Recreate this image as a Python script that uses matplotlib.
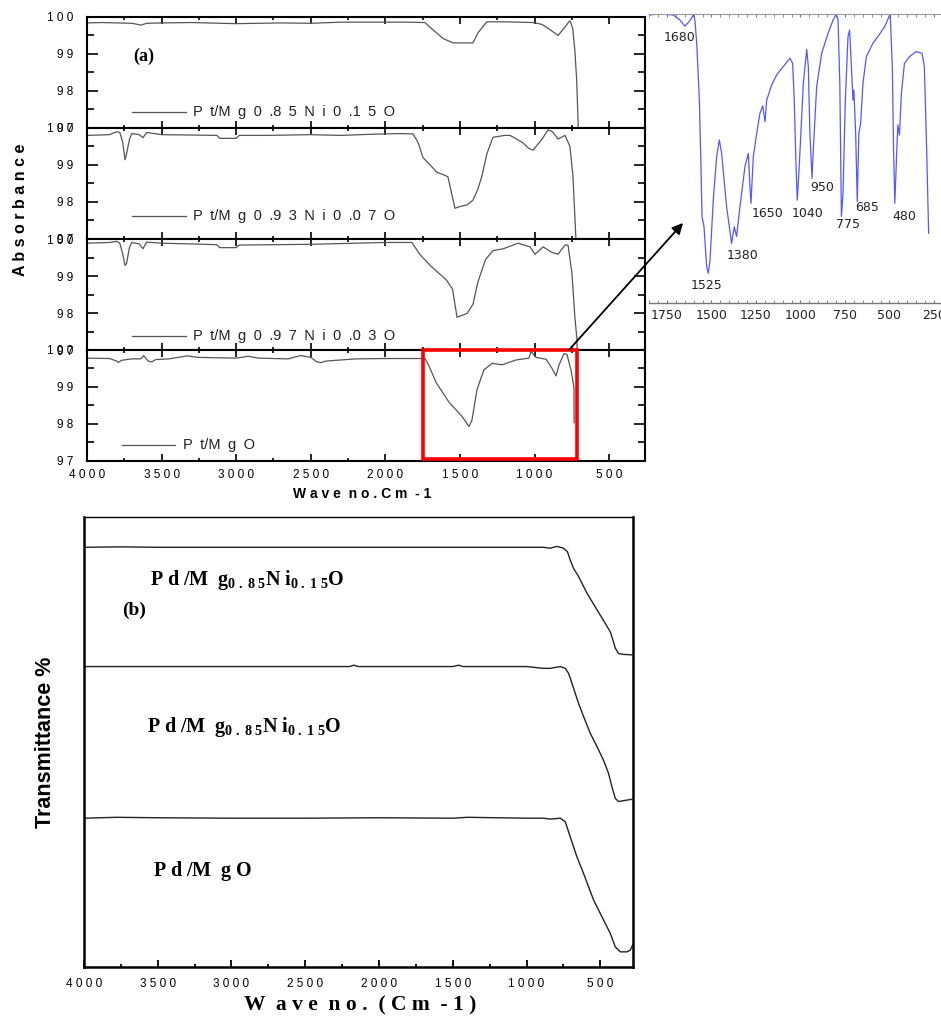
import matplotlib.pyplot as plt
from matplotlib.patches import Rectangle, ConnectionPatch
from matplotlib.ticker import MultipleLocator

plt.rcParams['font.family'] = ['Liberation Sans', 'DejaVu Sans']
plt.rcParams['mathtext.fontset'] = 'custom'
plt.rcParams['mathtext.rm'] = 'Liberation Serif'
plt.rcParams['mathtext.bf'] = 'Liberation Serif:bold'
plt.rcParams['mathtext.it'] = 'Liberation Serif:italic'

SP = '\u2002'  # wide letter spacing as in the original figure

# ---------------- panel (a): absorbance, four stacked spectra ----------------
a_names = ['P t/M g 0 .8 5 N i 0 .1 5 O', 'P t/M g 0 .9 3 N i 0 .0 7 O',
           'P t/M g 0 .9 7 N i 0 .0 3 O', 'P t/M g O']

a1_wn = [4000, 3900, 3800, 3700, 3660, 3640, 3600, 3500, 3300, 3100, 3000, 2700, 2500,
         2300, 2000, 1850, 1735, 1700, 1614, 1547, 1500, 1450, 1413, 1380, 1320, 1200,
         1100, 1010, 950, 897, 843, 796, 770, 763, 745, 730, 718, 707, 700]
a1_val = [99.84, 99.85, 99.84, 99.83, 99.8, 99.78, 99.83, 99.84, 99.85, 99.83, 99.82, 99.84, 99.83,
          99.86, 99.86, 99.86, 99.85, 99.72, 99.42, 99.3, 99.3, 99.3, 99.3, 99.57, 99.87, 99.87,
          99.86, 99.85, 99.8, 99.66, 99.5, 99.73, 99.87, 99.9, 99.7, 99.1, 98.3, 97.0, 96.0]

a2_wn = [4000, 3850, 3800, 3780, 3760, 3745, 3735, 3715, 3700, 3650, 3625, 3600, 3500, 3300,
         3130, 3110, 3000, 2980, 2800, 2500, 2300, 2100, 1900, 1815, 1780, 1748, 1700, 1654,
         1600, 1581, 1560, 1534, 1500, 1453, 1413, 1380, 1353, 1320, 1279, 1200, 1165, 1120,
         1078, 1040, 1011, 980, 950, 910, 880, 843, 820, 796, 763, 743, 723, 715]
a2_val = [99.8, 99.82, 99.9, 99.88, 99.6, 99.14, 99.3, 99.7, 99.85, 99.82, 99.74, 99.88, 99.82, 99.81,
          99.8, 99.72, 99.72, 99.8, 99.8, 99.82, 99.8, 99.83, 99.85, 99.84, 99.6, 99.2, 99.0, 98.8,
          98.72, 98.68, 98.3, 97.83, 97.88, 97.92, 98.05, 98.35, 98.7, 99.3, 99.75, 99.8, 99.8, 99.7,
          99.6, 99.45, 99.4, 99.55, 99.7, 99.95, 99.9, 99.7, 99.75, 99.8, 99.5, 98.7, 97.0, 96.0]

a3_wn = [4000, 3850, 3800, 3780, 3760, 3745, 3735, 3715, 3700, 3650, 3625, 3600, 3500, 3300,
         3130, 3110, 3000, 2980, 2500, 2200, 2000, 1822, 1770, 1700, 1590, 1550, 1520, 1453,
         1413, 1380, 1330, 1279, 1210, 1110, 1030, 997, 943, 883, 843, 796, 776, 750, 730,
         716, 710]
a3_val = [99.9, 99.92, 99.95, 99.9, 99.6, 99.3, 99.35, 99.8, 99.92, 99.88, 99.75, 99.93, 99.9, 99.88,
          99.86, 99.78, 99.78, 99.85, 99.87, 99.9, 99.92, 99.92, 99.6, 99.3, 98.9, 98.66, 97.9, 98.0,
          98.25, 98.85, 99.45, 99.7, 99.75, 99.9, 99.8, 99.6, 99.8, 99.65, 99.6, 99.85, 99.85, 99.1, 97.9,
          97.3, 96.0]

a4_wn = [4000, 3850, 3800, 3790, 3770, 3700, 3640, 3620, 3590, 3565, 3540, 3450, 3330, 3250,
         3000, 2920, 2850, 2650, 2570, 2500, 2460, 2430, 2400, 2200, 2000, 1850, 1735, 1708,
         1660, 1572, 1485, 1440, 1420, 1386, 1340, 1285, 1218, 1125, 1038, 1024, 990, 923,
         883, 856, 836, 803, 783, 756, 736, 735]
a4_val = [99.78, 99.77, 99.7, 99.66, 99.72, 99.76, 99.76, 99.85, 99.7, 99.68, 99.74, 99.76, 99.84, 99.8,
          99.78, 99.83, 99.78, 99.76, 99.85, 99.8, 99.68, 99.66, 99.7, 99.76, 99.77, 99.77, 99.77, 99.57,
          99.12, 98.58, 98.2, 97.93, 98.1, 98.93, 99.46, 99.64, 99.6, 99.73, 99.78, 99.96, 99.8, 99.75,
          99.5, 99.3, 99.6, 99.9, 99.88, 99.46, 98.98, 98.03]

a_series = [(a1_wn, a1_val), (a2_wn, a2_val), (a3_wn, a3_val), (a4_wn, a4_val)]
a_yticks = [97, 98, 99, 100]
a_ytick_labels = ['9 7', '9 8', '9 9', '1 0 0']
x_ticks = [4000, 3500, 3000, 2500, 2000, 1500, 1000, 500]
x_tick_labels = ['4 0 0 0', '3 5 0 0', '3 0 0 0', '2 5 0 0', '2 0 0 0', '1 5 0 0', '1 0 0 0', '5 0 0']

# ---------------- inset: blue IR spectrum ----------------
ir_wn = [1855, 1789, 1714, 1677, 1649, 1621, 1602, 1593, 1583, 1568, 1559, 1553, 1542, 1527, 1518,
         1508, 1490, 1471, 1456, 1443, 1415, 1387, 1372, 1359, 1340, 1312, 1293, 1284, 1278, 1265,
         1246, 1228, 1212, 1199, 1190, 1162, 1134, 1097, 1059, 1044, 1035, 1025, 1018, 1007, 984,
         965, 956, 947, 935, 928, 909, 881, 845, 817, 798, 789, 779, 770, 761, 748, 733, 724, 714,
         705, 700, 690, 681, 672, 662, 649, 630, 593, 565, 527, 496, 484, 477, 470, 459, 453, 444,
         433, 416, 388, 350, 317, 304, 291, 280]
ir_t = [99.65, 100, 99.65, 97.9, 95.8, 97.7, 99.65, 97.9, 89.9, 70.2, 47.2, 29.9, 26.4, 12.6, 10.3,
        14.9, 35.6, 50.6, 56.4, 51.8, 33.3, 20.6, 26.4, 23.0, 33.3, 47.2, 51.8, 40.3, 34.5, 50.6,
        58.7, 65.6, 68.2, 62.7, 70.2, 75.4, 78.9, 81.8, 84.7, 82.9, 70.2, 47.2, 35.6, 47.2, 76.0,
        87.8, 81.8, 58.7, 43.1, 52.9, 74.9, 86.4, 93.3, 97.9, 100, 97.9, 76.0, 29.9, 37.9, 70.2,
        92.2, 94.5, 81.8, 70.2, 73.7, 58.7, 35.1, 58.7, 62.2, 76.0, 85.2, 89.9, 92.2, 95.6, 100,
        81.8, 52.9, 34.5, 52.9, 61.6, 58.1, 72.5, 82.9, 85.2, 87.0, 86.4, 81.8, 52.9, 24.1]
ir_ticks = [1750, 1500, 1250, 1000, 750, 500, 250]
ir_peaks = [('1680', 1677, 92.0), ('1525', 1525, 6.2), ('1380', 1323, 16.6), ('1650', 1183, 31.1),
            ('1040', 958, 31.1), ('950', 879, 40.1), ('775', 733, 27.0), ('685', 626, 32.9),
            ('480', 419, 29.8)]

# ---------------- panel (b): transmittance ----------------
b_names = [r'$\mathbf{P\ d\ /M\ \ g_{0\ .\ 8\ 5}N\ i_{0\ .\ 1\ 5}O}$',
           r'$\mathbf{P\ d\ /M\ \ g_{0\ .\ 8\ 5}N\ i_{0\ .\ 1\ 5}O}$',
           r'$\mathbf{P\ d\ /M\ \ g\ O}$']
b1_wn = [4000, 3750, 3500, 3000, 2500, 2000, 1500, 1000, 885, 839, 794, 749, 722, 704, 681, 647,
         590, 522, 466, 432, 414, 398, 376, 342, 285]
b1_val = [93.2, 93.3, 93.2, 93.2, 93.2, 93.2, 93.2, 93.2, 93.2, 93.0, 93.4, 93.0, 92.2, 90.4, 88.5,
          86.7, 83.0, 79.3, 76.3, 74.4, 72.6, 70.8, 69.6, 69.4, 69.3]
b2_wn = [4000, 3500, 3000, 2500, 2200, 2170, 2140, 2000, 1500, 1460, 1430, 1000, 885, 839, 771,
         737, 715, 692, 670, 647, 613, 568, 522, 478, 444, 421, 398, 376, 342, 285]
b2_val = [66.7, 66.7, 66.7, 66.7, 66.7, 67.0, 66.7, 66.7, 66.7, 67.0, 66.7, 66.7, 66.3, 66.3, 66.7,
          66.3, 65.2, 63.0, 60.8, 58.5, 55.6, 51.9, 48.9, 45.9, 43.0, 40.0, 37.4, 36.7, 36.9, 37.2]
b3_wn = [4000, 3780, 3500, 3000, 2500, 2000, 1500, 1400, 1000, 885, 839, 771, 737, 704, 658, 613,
         545, 478, 432, 398, 364, 319, 296, 281]
b3_val = [33.0, 33.2, 33.1, 33.0, 33.0, 33.1, 33.0, 33.2, 33.0, 33.0, 32.8, 33.0, 32.2, 28.9, 24.4,
          20.7, 14.8, 10.4, 7.4, 4.4, 3.3, 3.3, 3.7, 4.8]
b_series = [(b1_wn, b1_val), (b2_wn, b2_val), (b3_wn, b3_val)]

W, H = 941, 1016
fig = plt.figure(figsize=(W / 100, H / 100), dpi=100)


def box(left, top, right, bottom):
    return [left / W, 1 - bottom / H, (right - left) / W, (bottom - top) / H]


def spaced(s):
    return s.replace(' ', SP)


# panel (a)
tops = [17, 128, 239.5, 350]
leg_y = [0.144, 0.205, 0.135, 0.144]
axes_a = []
for i, (wn, val) in enumerate(a_series):
    ax = fig.add_axes(box(87, tops[i], 645, tops[i] + 111 if i < 3 else 461))
    ax.plot(wn, val, color='#555555', lw=0.9)
    ax.set_xlim(4000, 260)
    ax.set_ylim(97, 100)
    ax.set_yticks(a_yticks)
    ax.set_yticklabels(a_ytick_labels)
    ax.yaxis.set_minor_locator(MultipleLocator(0.5))
    ax.set_xticks(x_ticks)
    ax.xaxis.set_minor_locator(MultipleLocator(250))
    ax.tick_params(which='both', direction='in', top=True, right=True, width=1.2)
    ax.tick_params(axis='y', which='major', length=8, labelsize=8.5, pad=10)
    ax.tick_params(axis='y', which='minor', length=5)
    ax.tick_params(axis='x', which='major', length=5, labelsize=8.5, pad=6)
    ax.tick_params(axis='x', which='minor', length=2.5)
    if i < 3:
        ax.tick_params(axis='x', labelbottom=False)
        lx0, lx1, tx = 0.081, 0.177, 0.19
    else:
        ax.set_xticklabels(x_tick_labels)
        lx0, lx1, tx = 0.063, 0.158, 0.172
    for s in ax.spines.values():
        s.set_linewidth(1.5)
    ax.plot([lx0, lx1], [leg_y[i], leg_y[i]], color='#555555', lw=0.9, transform=ax.transAxes)
    ax.text(tx, leg_y[i], spaced(a_names[i]), transform=ax.transAxes, fontsize=10.5,
            va='center', color='#222222')
    axes_a.append(ax)

axes_a[0].text(0.082, 0.604, '(a)', transform=axes_a[0].transAxes, fontsize=13,
               fontweight='bold', family='Liberation Serif')
fig.text(21 / W, 1 - 210 / H, 'A b s o r b a n c e', rotation=90, ha='center', va='center',
         fontsize=11.5, fontweight='bold')
fig.text(362 / W, 1 - 494 / H, 'W a v e  n o . C m  - 1', ha='center', va='center',
         fontsize=10, fontweight='bold')

ax4 = axes_a[3]
ax4.add_patch(Rectangle((716, 97.05), 1745 - 716, 2.95, fill=False, ec='#ff0000', lw=2.6,
                        clip_on=False, zorder=5))

# inset
axin = fig.add_axes(box(649, 14, 950, 303))
axin.plot(ir_wn, ir_t, color='#5656ff', lw=0.9)
axin.set_xlim(1851, 160)
axin.set_ylim(0, 100)
axin.set_yticks([])
axin.set_xticks(ir_ticks)
axin.xaxis.set_minor_locator(MultipleLocator(50))
axin.tick_params(axis='x', which='both', direction='in', top=True, length=2, color='#777777',
                 labelsize=9, pad=4)
axin.tick_params(axis='x', labelfontfamily='DejaVu Sans', labelcolor='#222222')
for side in ['left', 'right']:
    axin.spines[side].set_visible(False)
axin.spines['top'].set_color('#999999')
axin.spines['top'].set_linewidth(0.8)
axin.spines['bottom'].set_color('#777777')
axin.spines['bottom'].set_linewidth(1.0)
axin.patch.set_alpha(0)
for lab, x, y in ir_peaks:
    axin.text(x, y, lab, ha='center', va='center', fontsize=9, family='DejaVu Sans',
              color='#222222')

con = ConnectionPatch(xyA=(770, 100), coordsA=ax4.transData, xyB=(1660, 27.7),
                      coordsB=axin.transData, arrowstyle='-|>', mutation_scale=16,
                      lw=1.3, color='black', zorder=10)
fig.add_artist(con)

# panel (b)
axb = fig.add_axes(box(84, 516.7, 632.7, 966.7))
for wn, val in b_series:
    axb.plot(wn, val, color='#222222', lw=1.0)
axb.set_xlim(4000, 280)
axb.set_ylim(0, 100)
axb.set_yticks([])
axb.set_xticks(x_ticks)
axb.set_xticklabels(x_tick_labels)
axb.xaxis.set_minor_locator(MultipleLocator(250))
axb.tick_params(axis='x', which='both', direction='in', width=1.3)
axb.tick_params(axis='x', which='major', length=5, labelsize=8.5, pad=8)
axb.tick_params(axis='x', which='minor', length=2.5)
for side in ['left', 'right', 'bottom']:
    axb.spines[side].set_linewidth(1.8)
axb.spines['top'].set_linewidth(1.0)

b_pos = [(0.120, 0.848), (0.115, 0.522), (0.126, 0.2016)]
for (x, y), name in zip(b_pos, b_names):
    axb.text(x, y, name, transform=axb.transAxes, fontsize=14.5, va='baseline')
axb.text(0.069, 0.781, '(b)', transform=axb.transAxes, fontsize=14, fontweight='bold',
         family='Liberation Serif', va='baseline')
fig.text(46 / W, 1 - 742 / H, 'Transmittance %', rotation=90, ha='center', va='center',
         fontsize=15.5, fontweight='bold')
fig.text(360 / W, 1 - 1005 / H, 'W  a v e  n o .  ( C m  - 1 )', ha='center', va='center',
         fontsize=15.5, fontweight='bold', family='Liberation Serif')

fig.savefig('out.png', dpi=100)
